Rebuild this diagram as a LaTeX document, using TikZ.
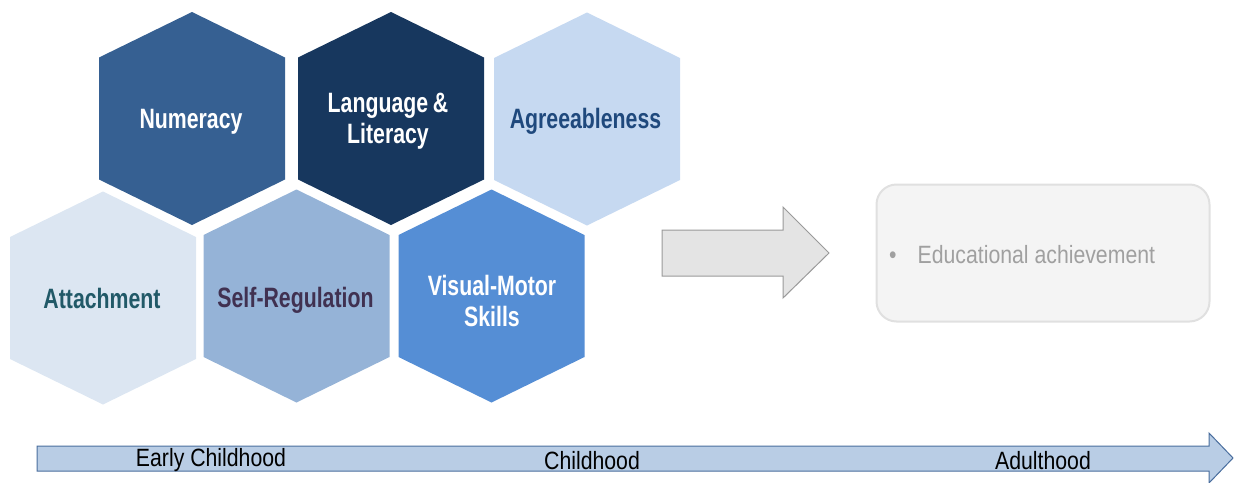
\documentclass[tikz,border=0pt]{standalone}
\usepackage{fontspec}
\setmainfont{Liberation Sans}[FakeStretch=0.85]
\newfontfamily\hexfont{Liberation Sans}[FakeStretch=0.76]
\definecolor{cNum}{HTML}{366092}
\definecolor{cLang}{HTML}{17375E}
\definecolor{cAgr}{HTML}{C6D9F1}
\definecolor{cAtt}{HTML}{DCE6F2}
\definecolor{cSelf}{HTML}{95B3D7}
\definecolor{cVis}{HTML}{558ED5}
\definecolor{tAgr}{HTML}{1F497D}
\definecolor{tAtt}{HTML}{215968}
\definecolor{tSelf}{HTML}{403151}
\definecolor{tlFill}{HTML}{B9CDE5}
\definecolor{tlDraw}{HTML}{4A6E9E}
\definecolor{arFill}{HTML}{E4E4E4}
\definecolor{arDraw}{HTML}{9A9A9A}
\definecolor{boxFill}{HTML}{F4F4F4}
\definecolor{boxDraw}{HTML}{E0E0E0}
\definecolor{boxText}{HTML}{A0A0A0}
\begin{document}
\begin{tikzpicture}[x=1pt,y=-1pt,
  hexa/.pic={\path[pic actions] (-93,-61) -- (0,-106.5) -- (93,-61) -- (93,61) -- (0,106.5) -- (-93,61) -- cycle;},
  hexlabel/.style={align=center,font=\hexfont\fontsize{28}{31}\selectfont\bfseries,inner sep=0pt},
  tllabel/.style={anchor=base,font=\fontsize{25}{30}\selectfont,inner sep=0pt,text=black}]
\useasboundingbox (0,0) rectangle (1234,482);
% hexagons
\pic[fill=cNum] at (192,118.5) {hexa};
\pic[fill=cLang] at (391,118.5) {hexa};
\pic[fill=cAgr] at (587,119) {hexa};
\pic[fill=cAtt] at (103,298) {hexa};
\pic[fill=cSelf] at (296.5,296) {hexa};
\pic[fill=cVis] at (491.5,296) {hexa};
\node[hexlabel,text=white,anchor=base] (num) at (191,128) {Numeracy};
\node[hexlabel,text=white] (lang) at (388,121.5) {Language\,\&\\Literacy};
\node[hexlabel,text=tAgr,anchor=base] (agr) at (585.5,128.5) {Agreeableness};
\node[hexlabel,text=tAtt,anchor=base] (att) at (102,308) {Attachment};
\node[hexlabel,text=tSelf,anchor=base] (self) at (295.5,307.5) {Self-Regulation};
\node[hexlabel,text=white] (vis) at (492,300.5) {Visual-Motor\\Skills};
% gray block arrow
\path[fill=arFill,draw=arDraw,line width=1pt] (662,230) -- (783,230) -- (783,207) -- (829,253) -- (783,298) -- (783,276) -- (662,276) -- cycle;
% outcome box
\node[draw=boxDraw,fill=boxFill,line width=2pt,rounded corners=20pt,minimum width=333pt,minimum height=137pt,inner sep=0pt] (box) at (1043,253) {};
\node[anchor=base west,font=\fontsize{25}{30}\selectfont,text=boxText,inner sep=0pt] (edu) at (889,263) {\textbullet\hspace{21pt}Educational achievement};
% timeline arrow
\path[fill=tlFill,draw=tlDraw,line width=1pt] (37,446) -- (1209,446) -- (1209,433) -- (1233,458) -- (1209,483) -- (1209,471) -- (37,471) -- cycle;
\node[tllabel] (ec) at (211,466) {Early Childhood};
\node[tllabel] (ch) at (592,469) {Childhood};
\node[tllabel] (ad) at (1043,469) {Adulthood};
\end{tikzpicture}
\end{document}
